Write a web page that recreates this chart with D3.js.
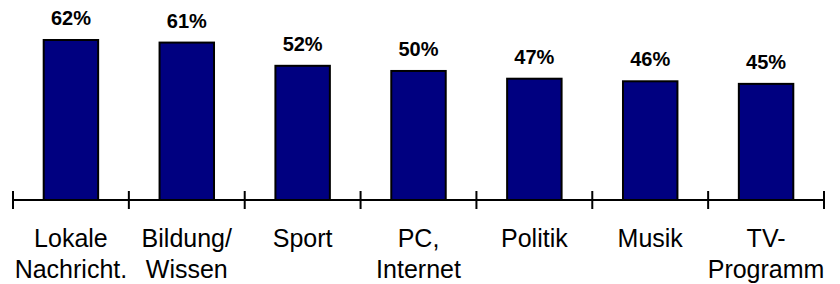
<!DOCTYPE html>
<html>
<head>
<meta charset="utf-8">
<script src="https://cdn.jsdelivr.net/npm/d3@7"></script>
<style>
  body { margin: 0; background: #fff; }
  svg { display: block; font-family: "Liberation Sans", Arial, sans-serif; }
</style>
</head>
<body>
<div id="chart"></div>
<script>
const categories = ["Lokale Nachricht.", "Bildung/ Wissen", "Sport", "PC, Internet", "Politik", "Musik", "TV-Programm"];
const labelLines = [["Lokale", "Nachricht."], ["Bildung/", "Wissen"], ["Sport"], ["PC,", "Internet"], ["Politik"], ["Musik"], ["TV-", "Programm"]];
const values = [62, 61, 52, 50, 47, 46, 45];

const width = 840, height = 284;
const axisY = 200;

const svg = d3.select("#chart")
  .append("svg")
    .attr("width", width)
    .attr("height", height);

// Scales
const xScale = d3.scaleBand()
  .domain(categories)
  .range([13, 824])
  .paddingInner(0.53)
  .paddingOuter(0.265);

const yScale = d3.scaleLinear()
  .domain([0, 62])
  .range([axisY, 40]);

// Bars
svg.append("g")
  .selectAll("rect")
  .data(values)
  .join("rect")
    .attr("x", (d, i) => xScale(categories[i]))
    .attr("y", d => yScale(d))
    .attr("width", xScale.bandwidth())
    .attr("height", d => axisY - yScale(d))
    .attr("fill", "#000080")
    .attr("stroke", "#000")
    .attr("stroke-width", 2);

// Value labels
svg.append("g")
  .selectAll("text")
  .data(values)
  .join("text")
    .attr("x", (d, i) => xScale(categories[i]) + xScale.bandwidth() / 2)
    .attr("y", d => yScale(d) - 15)
    .attr("text-anchor", "middle")
    .attr("font-size", 20)
    .attr("font-weight", "bold")
    .text(d => d + "%");

// Axis line with ticks between categories
const step = xScale.step();
const tickX = d3.range(categories.length + 1).map(i => 13 + i * step);
const axis = svg.append("g");
axis.append("line")
  .attr("x1", tickX[0]).attr("x2", tickX[tickX.length - 1])
  .attr("y1", axisY).attr("y2", axisY)
  .attr("stroke", "#000").attr("stroke-width", 2);
axis.selectAll(".tick")
  .data(tickX)
  .join("line")
    .attr("class", "tick")
    .attr("x1", d => d).attr("x2", d => d)
    .attr("y1", axisY - 9).attr("y2", axisY + 9)
    .attr("stroke", "#000").attr("stroke-width", 2);

// Category labels
const labels = svg.append("g")
  .selectAll("text")
  .data(categories)
  .join("text")
    .attr("text-anchor", "middle")
    .attr("font-size", 25)
    .attr("fill", "#000");
labels.each(function(c, i) {
  const cx = xScale(c) + xScale.bandwidth() / 2;
  d3.select(this).selectAll("tspan")
    .data(labelLines[i])
    .join("tspan")
      .attr("x", cx)
      .attr("y", (d, j) => 247 + j * 31)
      .text(d => d);
});
</script>
</body>
</html>
